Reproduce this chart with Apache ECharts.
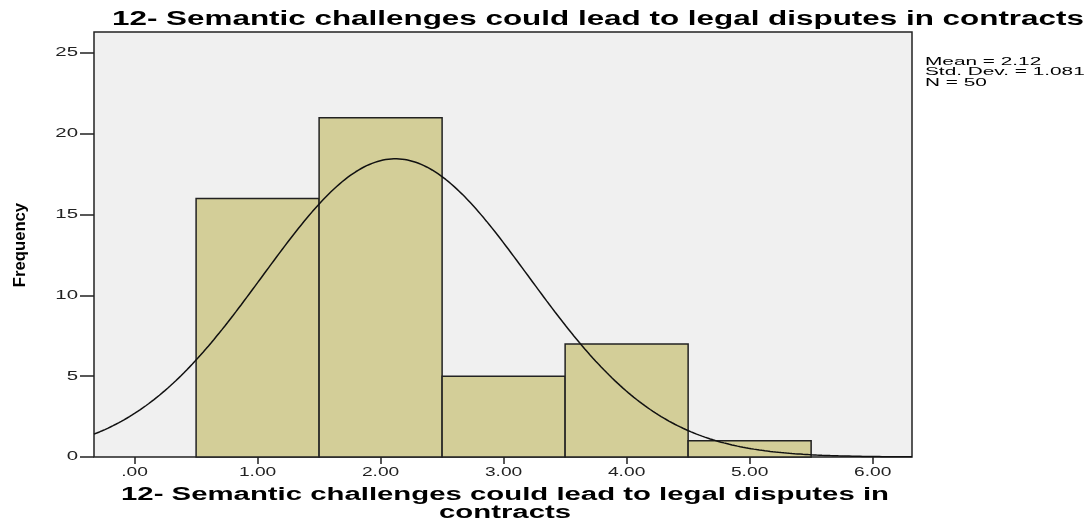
<!DOCTYPE html>
<html>
<head>
<meta charset="utf-8">
<script src="https://cdn.jsdelivr.net/npm/echarts@6/dist/echarts.min.js"></script>
<style>
  html, body { margin: 0; padding: 0; background: #ffffff; }
  #chart { width: 1092px; height: 523px; }
</style>
</head>
<body>
<div id="chart"></div>
<script>
// Histogram bins (lower edge, upper edge) and their frequencies
const binLower = [0.5, 1.5, 2.5, 3.5, 4.5];
const binUpper = [1.5, 2.5, 3.5, 4.5, 5.5];
const frequencies = [16, 21, 5, 7, 1];

// Summary statistics shown beside the plot; the normal curve is built from them
const mean = 2.12;
const stdDev = 1.081;
const n = 50;
const binWidth = 1;
const statsLines = ['Mean = 2.12', 'Std. Dev. = 1.081', 'N = 50'];

// Axis tick values and labels
const xTickValues = [0, 1, 2, 3, 4, 5, 6];
const xTickLabels = ['.00', '1.00', '2.00', '3.00', '4.00', '5.00', '6.00'];
const yTickValues = [0, 5, 10, 15, 20, 25];
const yTickLabels = ['0', '5', '10', '15', '20', '25'];

const titleText = '12- Semantic challenges could lead to legal disputes in contracts';
const xAxisTitle = '12- Semantic challenges could lead to legal disputes in\ncontracts';
const yAxisTitle = 'Frequency';

const xMin = -0.33, xMax = 6.32, yMax = 26.3;

const barData = binLower.map((lo, i) => [lo, binUpper[i], frequencies[i]]);

// Expected frequency under the normal distribution with the stated mean / SD
const curveData = [];
const steps = 300;
for (let i = 0; i <= steps; i++) {
  const x = xMin + (xMax - xMin) * i / steps;
  const z = (x - mean) / stdDev;
  const y = n * binWidth * Math.exp(-0.5 * z * z) / (stdDev * Math.sqrt(2 * Math.PI));
  curveData.push([x, y]);
}

const FONT = 'Liberation Sans, Arial, sans-serif';
const STRETCH = 1.6;   // text in this figure is drawn wide

const chart = echarts.init(document.getElementById('chart'), null, { renderer: 'canvas' });

chart.setOption({
  animation: false,
  backgroundColor: '#ffffff',
  graphic: [
    {
      type: 'text', x: 112, y: 19, scaleX: 1.57,
      style: { text: titleText, x: 0, y: 0, align: 'left', verticalAlign: 'middle',
               font: 'bold 20px ' + FONT, fill: '#000' }
    },
    ...statsLines.map((t, i) => ({
      type: 'text', x: 925, y: 62 + i * 10.5, scaleX: 2.08,
      style: { text: t, x: 0, y: 0, align: 'left', verticalAlign: 'middle',
               font: '10px ' + FONT, fill: '#000' }
    })),
    {
      type: 'text', x: 505, y: 504, scaleX: 1.63,
      style: { text: xAxisTitle, x: 0, y: 0, align: 'center', verticalAlign: 'middle',
               font: 'bold 18px ' + FONT, lineHeight: 18, fill: '#000' }
    },
    {
      type: 'text', x: 20, y: 245, rotation: Math.PI / 2, scaleX: 0.98,
      style: { text: yAxisTitle, x: 0, y: 0, align: 'center', verticalAlign: 'middle',
               font: 'bold 17px ' + FONT, fill: '#000' }
    }
  ],
  grid: {
    left: 94, right: 180, top: 32, bottom: 66,
    outerBoundsMode: 'none',
    containLabel: false,
    show: true,
    backgroundColor: '#f0f0f0',
    borderColor: '#222',
    borderWidth: 1.5
  },
  xAxis: {
    type: 'value',
    min: xMin,
    max: xMax,
    splitLine: { show: false },
    axisLine: { show: false, onZero: false },
    axisTick: { show: true, customValues: xTickValues, length: 7, lineStyle: { color: '#222', width: 1.5 } },
    axisLabel: { show: false }
  },
  yAxis: {
    type: 'value',
    min: 0,
    max: yMax,
    splitLine: { show: false },
    axisLine: { show: false, onZero: false },
    axisTick: { show: true, customValues: yTickValues, length: 14, lineStyle: { color: '#222', width: 1.5 } },
    axisLabel: { show: false }
  },
  series: [{
    type: 'custom',
    data: barData,
    encode: { x: [0, 1], y: 2 },
    renderItem: function (params, api) {
      const p0 = api.coord([api.value(0), 0]);
      const p1 = api.coord([api.value(1), api.value(2)]);
      return {
        type: 'rect',
        shape: { x: p0[0], y: p1[1], width: p1[0] - p0[0], height: p0[1] - p1[1] },
        style: { fill: '#d3ce98', stroke: '#222', lineWidth: 1.5 }
      };
    },
    z: 2
  }, {
    type: 'line',
    data: curveData,
    showSymbol: false,
    smooth: false,
    lineStyle: { color: '#111', width: 1.5 },
    z: 3
  }, {
    // x tick labels, placed through the x scale
    type: 'custom',
    data: xTickValues.map(v => [v, 0]),
    clip: false,
    silent: true,
    renderItem: function (params, api) {
      const p = api.coord([api.value(0), 0]);
      return {
        type: 'text', x: p[0], y: p[1] + 16, scaleX: STRETCH,
        style: { text: xTickLabels[params.dataIndex], x: 0, y: 0, align: 'center', verticalAlign: 'middle',
                 font: '12px ' + FONT, fill: '#222' }
      };
    }
  }, {
    // y tick labels, placed through the y scale
    type: 'custom',
    data: yTickValues.map(v => [xMin, v]),
    clip: false,
    silent: true,
    renderItem: function (params, api) {
      const p = api.coord([xMin, api.value(1)]);
      return {
        type: 'text', x: p[0] - 16, y: p[1], scaleX: 1.7,
        style: { text: yTickLabels[params.dataIndex], x: 0, y: 0, align: 'right', verticalAlign: 'middle',
                 font: '12px ' + FONT, fill: '#222' }
      };
    }
  }]
});
</script>
</body>
</html>
